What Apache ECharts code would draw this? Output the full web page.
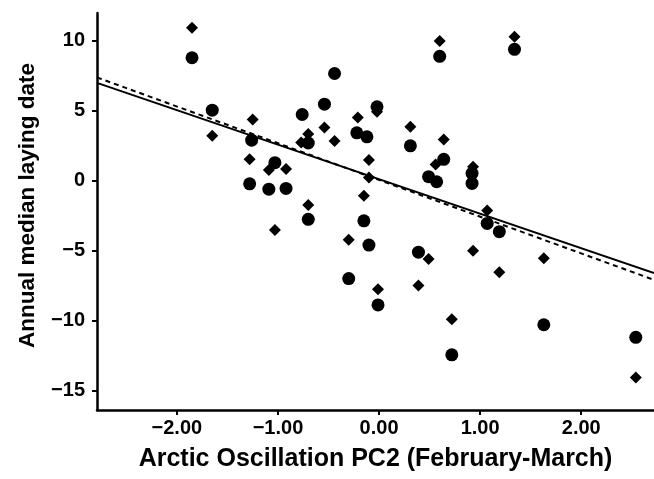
<!DOCTYPE html>
<html>
<head>
<meta charset="utf-8">
<script src="https://cdn.jsdelivr.net/npm/echarts@6/dist/echarts.min.js"></script>
<style>
html,body{margin:0;padding:0;background:#fff;}
#chart{width:654px;height:479px;}
</style>
</head>
<body>
<div id="chart"></div>
<script>
// Circle series (x = AO PC2, y = annual median laying date)
var circlePoints = [
  [-1.85, 8.8], [-1.65, 5.05], [-1.26, 2.9], [-1.28, -0.22], [-1.03, 1.29],
  [-1.09, -0.6], [-0.92, -0.55], [-0.76, 4.74], [-0.70, 2.7], [-0.70, -2.76],
  [-0.54, 5.48], [-0.44, 7.67], [-0.22, 3.43], [-0.12, 3.14], [-0.15, -2.87],
  [-0.10, -4.6], [-0.30, -7.0], [-0.02, 5.29], [-0.01, -8.88], [0.31, 2.5],
  [0.39, -5.11], [0.49, 0.29], [0.57, -0.07], [0.60, 8.9], [0.64, 1.53],
  [0.72, -12.45], [0.92, 0.53], [0.92, -0.19], [1.07, -3.05], [1.19, -3.64],
  [1.34, 9.4], [1.63, -10.3], [2.54, -11.2]
];
// Diamond series
var diamondPoints = [
  [-1.85, 10.95], [-1.65, 3.21], [-1.25, 4.38], [-1.28, 1.53], [-1.03, -3.52],
  [-1.09, 0.76], [-0.92, 0.84], [-0.77, 2.74], [-0.70, 3.34], [-0.70, -1.74],
  [-0.54, 3.81], [-0.44, 2.84], [-0.21, 4.53], [-0.10, 1.48], [-0.10, 0.24],
  [-0.15, -1.07], [-0.30, -4.22], [-0.02, 4.93], [-0.01, -7.76], [0.31, 3.86],
  [0.39, -7.5], [0.49, -5.6], [0.56, 1.17], [0.60, 10.0], [0.64, 2.95],
  [0.72, -9.9], [0.93, 1.0], [0.93, -5.0], [1.07, -2.12], [1.19, -6.54],
  [1.34, 10.3], [1.63, -5.55], [2.54, -14.07]
];
// Regression lines (endpoints at axis limits)
var fitSolid = [[-2.79, 7.0], [2.72, -6.61]];
var fitDashed = [[-2.79, 7.39], [2.72, -7.09]];

var xTickValues = [-2, -1, 0, 1, 2];
var yTickValues = [-15, -10, -5, 0, 5, 10];
var xMin = -2.79, xMax = 2.72, yMin = -16.4, yMax = 12.0;
var xTitle = 'Arctic Oscillation PC2 (February-March)';
var yTitle = 'Annual median laying date';

function fmtX(v){ return (v < 0 ? '\u2212' : '') + Math.abs(v).toFixed(2); }
function fmtY(v){ return (v < 0 ? '\u2212' : '') + Math.abs(v); }

var FONT = 'Liberation Sans';
var chart = echarts.init(document.getElementById('chart'), null, {renderer: 'canvas'});
chart.setOption({
  animation: false,
  backgroundColor: '#fff',
  grid: {left: 97, right: 0, top: 13, bottom: 69},
  xAxis: {
    type: 'value', min: xMin, max: xMax,
    name: xTitle, nameLocation: 'middle', nameGap: 37,
    nameTextStyle: {fontFamily: FONT, fontWeight: 'bold', fontSize: 25, color: '#000'},
    axisLine: {show: true, onZero: false, lineStyle: {color: '#000', width: 2.5}},
    axisTick: {show: true, length: 5, lineStyle: {color: '#000', width: 2}, customValues: xTickValues},
    axisLabel: {customValues: xTickValues, formatter: fmtX, margin: 8,
      fontFamily: FONT, fontWeight: 'bold', fontSize: 20, color: '#000'},
    splitLine: {show: false}
  },
  yAxis: {
    type: 'value', min: yMin, max: yMax,
    name: yTitle, nameLocation: 'middle', nameGap: 58, nameRotate: 90,
    nameTextStyle: {fontFamily: FONT, fontWeight: 'bold', fontSize: 22.5, color: '#000',
      padding: [0, 0, 0, 12]},
    axisLine: {show: true, onZero: false, lineStyle: {color: '#000', width: 2.5}},
    axisTick: {show: true, length: 5, lineStyle: {color: '#000', width: 2}, customValues: yTickValues},
    axisLabel: {customValues: yTickValues, formatter: fmtY, margin: 12,
      fontFamily: FONT, fontWeight: 'bold', fontSize: 20, color: '#000'},
    splitLine: {show: false}
  },
  series: [
    {type: 'scatter', data: circlePoints, symbol: 'circle', symbolSize: 13,
      itemStyle: {color: '#000', opacity: 1}, z: 3},
    {type: 'scatter', data: diamondPoints, symbol: 'diamond', symbolSize: 12,
      itemStyle: {color: '#000', opacity: 1}, z: 3},
    {type: 'line', data: fitSolid, showSymbol: false, symbol: 'none',
      lineStyle: {color: '#000', width: 2, type: 'solid'}, z: 4},
    {type: 'line', data: fitDashed, showSymbol: false, symbol: 'none',
      lineStyle: {color: '#000', width: 2, type: [5, 4]}, z: 4}
  ]
});
</script>
</body>
</html>
